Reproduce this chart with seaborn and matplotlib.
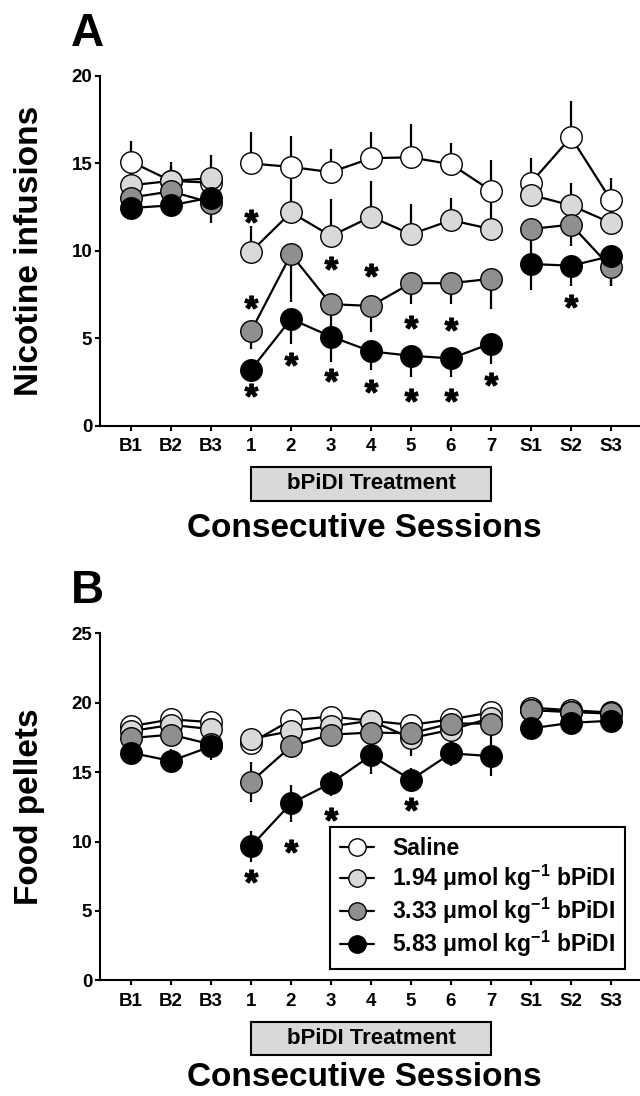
import numpy as np
import pandas as pd
import matplotlib
matplotlib.use("Agg")
import matplotlib.pyplot as plt
import matplotlib.transforms as mtrans
from matplotlib.patches import Rectangle
from matplotlib.lines import Line2D
import seaborn as sns

sns.set_style("ticks", {"axes.edgecolor": "black", "text.color": "black",
                        "axes.labelcolor": "black", "xtick.color": "black",
                        "ytick.color": "black"})
plt.rcParams["font.family"] = ["Liberation Sans", "DejaVu Sans"]
plt.rcParams["font.weight"] = "bold"
plt.rcParams["axes.labelweight"] = "bold"
plt.rcParams["mathtext.fontset"] = "custom"
plt.rcParams["mathtext.rm"] = "Liberation Sans:bold"
plt.rcParams["mathtext.it"] = "Liberation Sans:bold"
plt.rcParams["mathtext.bf"] = "Liberation Sans:bold"
plt.rcParams["mathtext.default"] = "bf"

# ---- data ----
sessions = ["B1", "B2", "B3", "1", "2", "3", "4", "5", "6", "7", "S1", "S2", "S3"]
phases = ["base"] * 3 + ["treat"] * 7 + ["post"] * 3
groups = ["Saline",
          "1.94 \u03bcmol kg$^{-1}$ bPiDI",
          "3.33 \u03bcmol kg$^{-1}$ bPiDI",
          "5.83 \u03bcmol kg$^{-1}$ bPiDI"]
fills = ["#ffffff", "#d9d9d9", "#8f8f8f", "#000000"]

# panel A: nicotine infusions (error bars: saline/1.94 drawn up, 3.33/5.83 drawn down)
nic_saline = [15.1, 14.0, 13.9, 15.0, 14.8, 14.5, 15.3, 15.35, 14.95, 13.45, 13.9, 16.5, 12.9]
nic_low = [13.75, 14.0, 14.15, 9.95, 12.2, 10.85, 11.95, 10.95, 11.75, 11.25, 13.2, 12.6, 11.6]
nic_mid = [13.05, 13.4, 12.75, 5.4, 9.8, 6.95, 6.85, 8.15, 8.15, 8.4, 11.25, 11.5, 9.05]
nic_high = [12.45, 12.6, 13.05, 3.2, 6.1, 5.1, 4.25, 4.0, 3.85, 4.7, 9.25, 9.15, 9.7]
nic_saline_err = [1.2, 1.1, 1.6, 1.8, 1.75, 1.3, 1.5, 1.9, 1.2, 1.75, 1.4, 2.05, 1.25]
nic_low_err = [0.9, 0.8, 0.6, 1.45, 2.05, 2.1, 2.05, 1.75, 1.25, 1.8, 1.2, 1.3, 1.0]
nic_mid_err = [0.5, 0.5, 1.15, 1.0, 2.75, 1.8, 1.5, 1.2, 1.2, 1.7, 1.4, 1.2, 1.05]
nic_high_err = [0.4, 0.6, 0.8, 0.5, 1.4, 1.45, 1.05, 1.2, 1.05, 1.15, 1.5, 1.15, 1.7]
nic_star_x = [3, 3, 3, 4, 5, 5, 6, 6, 7, 7, 8, 8, 9, 11]
nic_star_y = [12.0, 7.05, 2.05, 3.8, 9.3, 2.9, 8.9, 2.25, 5.95, 1.75, 5.8, 1.75, 2.65, 7.15]

# panel B: food pellets (symmetric error bars)
food_saline = [18.3, 18.8, 18.6, 17.1, 18.75, 19.0, 18.7, 18.4, 18.8, 19.3, 19.65, 19.45, 19.3]
food_low = [17.95, 18.4, 18.1, 17.4, 17.95, 18.3, 18.7, 17.45, 18.05, 18.9, 19.45, 19.35, 19.2]
food_mid = [17.45, 17.7, 17.0, 14.3, 16.85, 17.7, 17.85, 17.8, 18.5, 18.5, 19.45, 19.35, 19.25]
food_high = [16.4, 15.8, 16.85, 9.65, 12.75, 14.2, 16.2, 14.45, 16.35, 16.15, 18.15, 18.55, 18.7]
food_saline_err = [0.4, 0.4, 0.4, 0.5, 0.5, 0.6, 0.5, 0.5, 0.8, 0.5, 0.4, 0.3, 0.3]
food_low_err = [0.4, 0.4, 0.4, 0.5, 0.5, 0.6, 0.6, 1.3, 0.6, 0.5, 0.4, 0.3, 0.3]
food_mid_err = [0.5, 0.6, 0.6, 1.45, 0.6, 0.5, 0.7, 0.7, 0.6, 0.8, 0.4, 0.3, 0.3]
food_high_err = [0.9, 0.9, 0.95, 1.1, 1.35, 0.9, 1.35, 0.85, 0.9, 1.45, 0.7, 0.4, 0.4]
food_star_x = [3, 4, 5, 7]
food_star_y = [7.55, 9.7, 12.0, 12.7]


def long_table(series, errs):
    rows = []
    for g, vals, err in zip(groups, series, errs):
        for i, (v, e) in enumerate(zip(vals, err)):
            rows.append(dict(pos=i, value=v, err=e, group=g, phase=phases[i]))
    return pd.DataFrame(rows)


df_nic = long_table([nic_saline, nic_low, nic_mid, nic_high],
                    [nic_saline_err, nic_low_err, nic_mid_err, nic_high_err])
df_food = long_table([food_saline, food_low, food_mid, food_high],
                     [food_saline_err, food_low_err, food_mid_err, food_high_err])

W, H = 640, 1096
fig = plt.figure(figsize=(W / 100, H / 100), dpi=100)
axA = fig.add_axes([100 / W, 1 - 425.7 / H, 540 / W, 349.7 / H])
axB = fig.add_axes([100 / W, 1 - 980.3 / H, 540 / W, 347 / H])


def draw_panel(ax, df, err_dirs, star_x, star_y, ymax, ylabel, axh, xlab_off):
    for k, g in enumerate(groups):
        sub = df[df.group == g]
        e = sub.err.values
        if err_dirs == "sym":
            yerr = [e, e]
        elif err_dirs[k] == "up":
            yerr = [np.zeros_like(e), e]
        else:
            yerr = [e, np.zeros_like(e)]
        ax.errorbar(sub.pos, sub.value, yerr=yerr, fmt="none", ecolor="black",
                    elinewidth=1.6, capsize=0, zorder=2)
        sns.lineplot(data=sub, x="pos", y="value", units="phase", estimator=None,
                     color="black", lw=1.6, marker="o", markersize=15.5,
                     markerfacecolor=fills[k], markeredgecolor="black",
                     markeredgewidth=1.0, legend=False, ax=ax, zorder=3 + k)
    ax.plot(star_x, star_y, ls="none", marker="$*$", ms=9.5, color="black", zorder=10)

    ax.set_xlim(-0.775, 12.725)
    ax.set_ylim(0, ymax)
    ax.set_yticks(np.arange(0, ymax + 1, 5))
    ax.set_xticks(range(len(sessions)))
    ax.set_xticklabels(sessions)
    ax.set_xlabel("")
    ax.set_ylabel("")
    sns.despine(ax=ax)
    for s in ["left", "bottom"]:
        ax.spines[s].set_linewidth(1.5)
    ax.tick_params(axis="both", direction="out", length=3.6, width=1.5, labelsize=13.5)
    ax.tick_params(axis="x", pad=5.5)
    ax.tick_params(axis="y", pad=2)

    # treatment bar under the axis
    tr = mtrans.blended_transform_factory(ax.transData, ax.transAxes)
    y0, y1 = -75.0 / axh, -41.3 / axh
    ax.add_patch(Rectangle((3, y0), 6, y1 - y0, transform=tr, clip_on=False,
                           facecolor="#d9d9d9", edgecolor="black", lw=1.5))
    ax.text(6, (y0 + y1) / 2, "bPiDI Treatment", transform=tr, ha="center",
            va="center", fontsize=16, fontweight="bold")
    ax.text(0.489, -xlab_off / axh, "Consecutive Sessions", transform=ax.transAxes,
            ha="center", va="baseline", fontsize=24, fontweight="bold")
    ax.text(-0.1148, 0.5, ylabel, transform=ax.transAxes, rotation=90,
            rotation_mode="anchor", ha="center", va="baseline",
            fontsize=24, fontweight="bold")


draw_panel(axA, df_nic, ["up", "up", "down", "down"], nic_star_x, nic_star_y,
           20, "Nicotine infusions", 349.7, 111.3)
draw_panel(axB, df_food, "sym", food_star_x, food_star_y,
           25, "Food pellets", 347.0, 106.0)

fig.text(71 / W, 1 - 46 / H, "A", fontsize=33, fontweight="bold", va="baseline")
fig.text(71 / W, 1 - 603 / H, "B", fontsize=33, fontweight="bold", va="baseline")

handles = [Line2D([], [], color="black", lw=1.6, marker="o", markersize=12.5,
                  markerfacecolor=f, markeredgecolor="black", markeredgewidth=1.0)
           for f in fills]
leg = axB.legend(handles, groups, loc="upper left", bbox_to_anchor=(0.426, 0.442),
                 borderaxespad=0, fontsize=16.5, frameon=True, fancybox=False,
                 framealpha=1, edgecolor="black", handlelength=1.45,
                 handletextpad=0.8, borderpad=0.45, labelspacing=0.12, numpoints=1)
leg.get_frame().set_linewidth(1.5)

fig.savefig("out.png", dpi=100)
